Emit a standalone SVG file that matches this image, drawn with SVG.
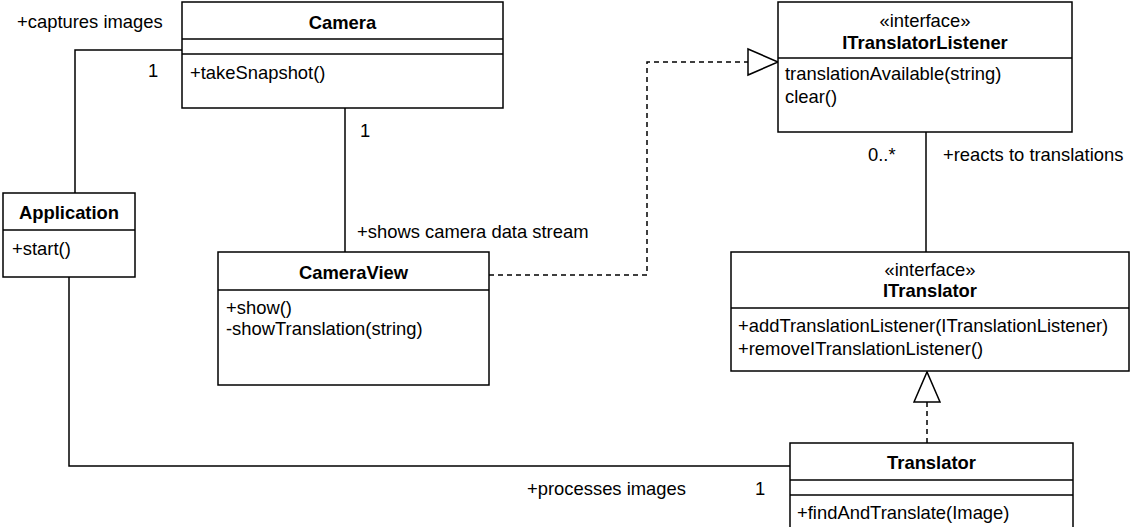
<svg xmlns="http://www.w3.org/2000/svg" width="1132" height="527" viewBox="0 0 1132 527">
  <style>
    text { font-family: "Liberation Sans", Arial, Helvetica, sans-serif; font-size: 18.4px; fill: #000; }
    .title { font-weight: bold; text-anchor: middle; }
    .stereo { text-anchor: middle; }
    .box { fill: #fff; stroke: #000; stroke-width: 1.5; }
    .div { stroke: #000; stroke-width: 1.5; fill: none; }
    .edge { stroke: #000; stroke-width: 1.5; fill: none; }
    .dash { stroke: #000; stroke-width: 1.5; fill: none; stroke-dasharray: 5 4; }
    .head { fill: #fff; stroke: #000; stroke-width: 1.5; }
  </style>

  <!-- associations and realizations -->
  <g id="connectors">
    <!-- Application — Camera -->
    <polyline class="edge" points="182,50 75,50 75,193"/>
    <text x="17" y="28">+captures images</text>
    <text x="148" y="77">1</text>

    <!-- Camera — CameraView -->
    <line class="edge" x1="345" y1="108" x2="345" y2="252"/>
    <text x="360" y="137">1</text>
    <text x="357" y="238">+shows camera data stream</text>

    <!-- CameraView realizes ITranslatorListener -->
    <polyline class="dash" points="489,275 647,275 647,62 748,62"/>
    <polygon class="head" points="748,49 778,62 748,75"/>

    <!-- ITranslatorListener — ITranslator -->
    <line class="edge" x1="926" y1="132" x2="926" y2="252"/>
    <text x="868" y="161">0..*</text>
    <text x="943" y="161">+reacts to translations</text>

    <!-- Translator realizes ITranslator -->
    <line class="dash" x1="927" y1="443" x2="927" y2="402"/>
    <polygon class="head" points="914,402 927,372 940,402"/>

    <!-- Application — Translator -->
    <polyline class="edge" points="69,277 69,466 790,466"/>
    <text x="527" y="495">+processes images</text>
    <text x="755" y="495">1</text>
  </g>

  <g id="camera">
    <rect class="box" x="182" y="2" width="321" height="106"/>
    <line class="div" x1="182" y1="39" x2="503" y2="39"/>
    <line class="div" x1="182" y1="54" x2="503" y2="54"/>
    <text class="title" x="342.5" y="29">Camera</text>
    <text x="190" y="79">+takeSnapshot()</text>
  </g>

  <g id="application">
    <rect class="box" x="3" y="193" width="132" height="84"/>
    <line class="div" x1="3" y1="230" x2="135" y2="230"/>
    <text class="title" x="69" y="219">Application</text>
    <text x="12" y="255">+start()</text>
  </g>

  <g id="cameraView">
    <rect class="box" x="218" y="252" width="271" height="133"/>
    <line class="div" x1="218" y1="290" x2="489" y2="290"/>
    <text class="title" x="353.5" y="279">CameraView</text>
    <text x="226" y="314">+show()</text>
    <text x="226" y="335">-showTranslation(string)</text>
  </g>

  <g id="iTranslatorListener">
    <rect class="box" x="778" y="2" width="294" height="130"/>
    <line class="div" x1="778" y1="58" x2="1072" y2="58"/>
    <text class="stereo" x="925" y="27">«interface»</text>
    <text class="title" x="925" y="49">ITranslatorListener</text>
    <text x="785" y="80">translationAvailable(string)</text>
    <text x="785" y="103">clear()</text>
  </g>

  <g id="iTranslator">
    <rect class="box" x="731" y="252" width="398" height="119"/>
    <line class="div" x1="731" y1="308" x2="1129" y2="308"/>
    <text class="stereo" x="930" y="276">«interface»</text>
    <text class="title" x="930" y="297">ITranslator</text>
    <text x="738" y="332">+addTranslationListener(ITranslationListener)</text>
    <text x="738" y="355">+removeITranslationListener()</text>
  </g>

  <g id="translator">
    <rect class="box" x="790" y="443" width="283" height="100"/>
    <line class="div" x1="790" y1="480" x2="1073" y2="480"/>
    <line class="div" x1="790" y1="495" x2="1073" y2="495"/>
    <text class="title" x="931.5" y="469">Translator</text>
    <text x="797" y="519">+findAndTranslate(Image)</text>
  </g>
</svg>
